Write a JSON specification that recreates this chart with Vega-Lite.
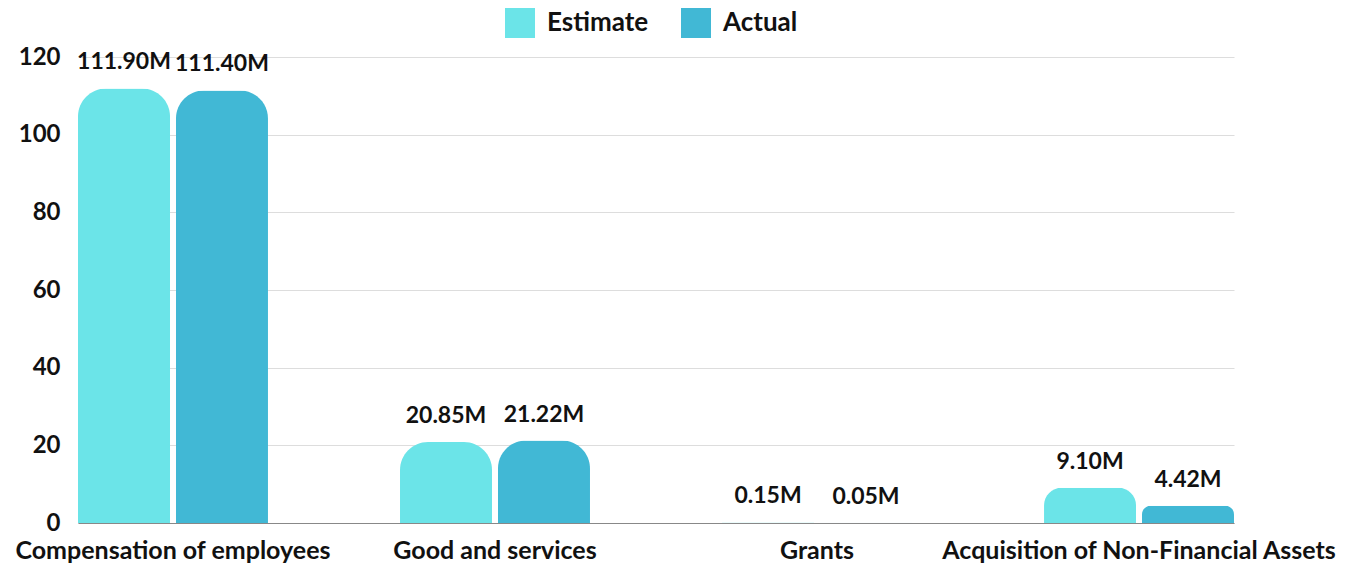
{
  "$schema": "https://vega.github.io/schema/vega-lite/v6.json",
  "width": 1156,
  "height": 466,
  "autosize": {"type": "none"},
  "padding": {"left": 78, "top": 57, "right": 128, "bottom": 41},
  "background": "white",
  "config": {
    "font": "Lato",
    "view": {"stroke": null},
    "axis": {"labelFont": "Lato", "labelFontWeight": "bold", "labelFontSize": 24, "labelColor": "#111"},
    "legend": {"labelFont": "Lato", "labelFontWeight": "bold", "labelFontSize": 26, "labelColor": "#111"}
  },
  "data": {
    "values": [
      {"category": "Compensation of employees", "series": "Estimate", "value": 111.90},
      {"category": "Compensation of employees", "series": "Actual", "value": 111.40},
      {"category": "Good and services", "series": "Estimate", "value": 20.85},
      {"category": "Good and services", "series": "Actual", "value": 21.22},
      {"category": "Grants", "series": "Estimate", "value": 0.15},
      {"category": "Grants", "series": "Actual", "value": 0.05},
      {"category": "Acquisition of Non-Financial Assets", "series": "Estimate", "value": 9.10},
      {"category": "Acquisition of Non-Financial Assets", "series": "Actual", "value": 4.42}
    ]
  },
  "transform": [
    {"calculate": "format(datum.value, '.2f') + 'M'", "as": "label"}
  ],
  "encoding": {
    "x": {
      "field": "category", "type": "nominal", "sort": null,
      "scale": {"paddingInner": 0.41, "paddingOuter": 0},
      "axis": {"title": null, "labelAngle": 0, "ticks": false, "tickSize": 0, "domain": true, "domainColor": "#888", "labelPadding": 15, "grid": false, "labelLimit": 0, "labelFontSize": 25, "labelOverlap": false}
    },
    "xOffset": {
      "field": "series", "type": "nominal", "sort": ["Estimate", "Actual"],
      "scale": {"paddingInner": 0.061, "paddingOuter": 0}
    },
    "y": {
      "field": "value", "type": "quantitative",
      "scale": {"domain": [0, 120], "nice": false},
      "axis": {"title": null, "values": [0, 20, 40, 60, 80, 100, 120], "domain": false, "ticks": false, "tickSize": 0, "labelPadding": 18, "gridColor": "#dddddd", "labelBaseline": "middle"}
    }
  },
  "layer": [
    {
      "mark": {"type": "bar", "cornerRadiusTopLeft": 28, "cornerRadiusTopRight": 28},
      "encoding": {
        "color": {
          "field": "series", "type": "nominal", "sort": ["Estimate", "Actual"],
          "scale": {"domain": ["Estimate", "Actual"], "range": ["#6be4e8", "#41b8d5"]},
          "legend": {
            "title": null, "orient": "none", "direction": "horizontal",
            "legendX": 427, "legendY": -49, "padding": 0,
            "symbolType": "square", "symbolSize": 900, "symbolStrokeWidth": 0,
            "labelOffset": 12, "columnPadding": 32
          }
        }
      }
    },
    {
      "mark": {"type": "text", "dy": -26, "baseline": "middle", "font": "Lato", "fontWeight": "bold", "fontSize": 23, "color": "#111"},
      "encoding": {"text": {"field": "label"}}
    }
  ]
}
